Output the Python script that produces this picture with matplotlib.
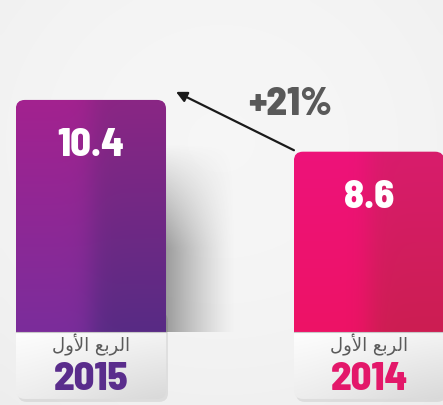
import numpy as np
import matplotlib.pyplot as plt
from matplotlib.patches import FancyBboxPatch

# chart data
years = ['2015', '2014']
values = [10.4, 8.6]
value_labels = ['10.4', '8.6']
change_label = '+21%'
# "الربع الأول" in presentation forms, visual order (matplotlib does no Arabic shaping)
quarter_label = '\ufedd\ufeed\ufef7\ufe8d \ufeca\ufe91\ufeae\ufedf\ufe8d'

# styles
bar_colors = [  # top-left, top-right, bottom-left, bottom-right
    ['#a3228f', '#8a2684', '#7b2d9b', '#582b84'],
    ['#ee127a', '#d81c6c', '#ee1266', '#cc1e52'],
]
year_colors = ['#5a2d8c', '#e3186a']
num_font = ['Barlow Semi Condensed', 'Barlow Condensed', 'DejaVu Sans']

W, H = 443, 406
fig = plt.figure(figsize=(W / 100, H / 100), dpi=100)
ax = fig.add_axes([0, 0, 1, 1])
ax.set_xlim(-0.327, 1.266)
ax.set_ylim(-0.21, 13.91)
ax.axis('off')

xpx = W / (1.266 + 0.327)      # pixels per x unit
ypx = H / (13.91 + 0.21)       # pixels per y unit
aspect = xpx / ypx


def to_rgb(c):
    return np.array([int(c[i:i + 2], 16) for i in (1, 3, 5)]) / 255.0


def gradient(tl, tr, bl, br, n=80, sharp=22):
    tl, tr, bl, br = map(to_rgb, (tl, tr, bl, br))
    t = np.linspace(0, 1, n)[:, None, None]
    s = 1 / (1 + np.exp(-(np.linspace(0, 1, n) - 0.5) * sharp))[None, :, None]
    top = tl * (1 - s) + tr * s
    bot = bl * (1 - s) + br * s
    return top * (1 - t) + bot * t


# background
yy, xx = np.mgrid[0:1:100j, 0:1:100j]
bg = 0.965 - 0.05 * ((xx - 0.5) ** 2 + (yy - 0.35) ** 2)
ax.imshow(np.dstack([bg, bg, bg]), extent=(-0.327, 1.266, -0.21, 13.91),
          aspect='auto', zorder=0, interpolation='bicubic')

bars = ax.bar([0, 1], values, width=0.54, color='none', edgecolor='none')
box_h = 2.33
rad = 9 / xpx

for i, b in enumerate(bars):
    x0, w, h = b.get_x(), b.get_width(), b.get_height()
    clip = FancyBboxPatch((x0, 0), w, h, boxstyle=f'round,pad=0,rounding_size={rad}',
                          mutation_aspect=aspect, transform=ax.transData)

    # soft shadow to the right of the bar
    if i == 0:
        sx = np.linspace(0, 1, 60)[None, :]
        sy = np.linspace(0, 1, 60)[:, None]
        alpha = (1 - sx) ** 1.3 * np.clip(sy * 1.8, 0, 1) * 0.55
        sh = np.zeros((60, 60, 4))
        sh[..., :3] = 0.33
        sh[..., 3] = alpha
        ax.imshow(sh, extent=(x0 + w, x0 + w + 70 / xpx, box_h, h - 1.5),
                  aspect='auto', zorder=1, interpolation='bicubic')

    # faint shadow under the label box
    ax.add_patch(FancyBboxPatch((x0 + 2 / xpx, -3 / ypx), w, h * 0.3,
                                boxstyle=f'round,pad=0,rounding_size={rad}',
                                mutation_aspect=aspect, facecolor='#000000',
                                alpha=0.08, edgecolor='none', zorder=1))

    im = ax.imshow(gradient(*bar_colors[i]), extent=(x0, x0 + w, box_h, h),
                   aspect='auto', zorder=2, interpolation='bicubic')
    im.set_clip_path(clip)

    # label box
    lb = gradient('#ffffff', '#f2f2f2', '#f0f0f0', '#d6d6d6', sharp=4)
    im2 = ax.imshow(lb, extent=(x0, x0 + w, 0, box_h), aspect='auto', zorder=2,
                    interpolation='bicubic')
    im2.set_clip_path(clip)
    ax.plot([x0, x0 + w], [box_h, box_h], color='#c8c8c8', lw=0.8, zorder=3)

    cx = x0 + w / 2
    ax.text(cx, h - 1.55, value_labels[i], ha='center', va='center', color='white',
            fontsize=29, fontweight='heavy', family=num_font, zorder=4)
    ax.text(cx, 1.9, quarter_label, ha='center', va='center', color='#5a5a5a',
            fontsize=13, family=['DejaVu Sans'], zorder=4)
    ax.text(cx, 0.33, years[i], ha='center', va='baseline', color=year_colors[i],
            fontsize=29, fontweight='heavy', family=num_font, zorder=4)

# change arrow from 2014 to 2015
b0, b1 = bars[0], bars[1]
ax.annotate('', xy=(b0.get_x() + b0.get_width() + 10 / xpx, values[0] + 0.28),
            xytext=(b1.get_x(), values[1] + 0.05),
            arrowprops=dict(arrowstyle='-|>', color='#1a1a1a', lw=1.6,
                            mutation_scale=16, shrinkA=0, shrinkB=0), zorder=5)
ax.text(0.716, 10.26, change_label, ha='center', va='center', color='#595959',
        fontsize=29, fontweight='heavy', family=num_font, zorder=5)

fig.savefig('out.png', dpi=100)
